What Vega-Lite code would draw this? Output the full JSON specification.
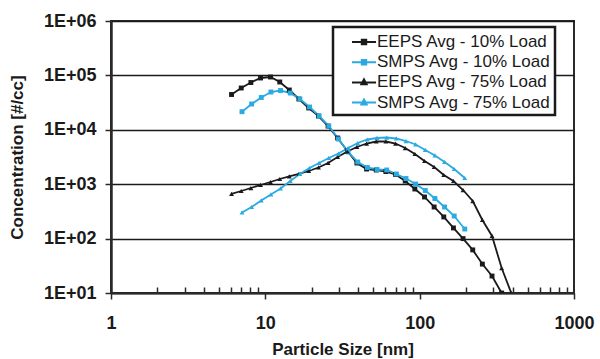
{
  "$schema": "https://vega.github.io/schema/vega-lite/v6.json",
  "width": 463,
  "height": 272,
  "autosize": "none",
  "padding": {"left": 111, "top": 21, "right": 26, "bottom": 66},
  "background": "white",
  "config": {
    "font": "Liberation Sans",
    "view": {"stroke": "#2a2a2a", "strokeWidth": 2}
  },
  "data": {
    "values": [
      {"series": "EEPS Avg - 10% Load", "size": 6.04, "conc": 44560},
      {"series": "EEPS Avg - 10% Load", "size": 6.98, "conc": 58650},
      {"series": "EEPS Avg - 10% Load", "size": 8.06, "conc": 74000},
      {"series": "EEPS Avg - 10% Load", "size": 9.31, "conc": 89600},
      {"series": "EEPS Avg - 10% Load", "size": 10.8, "conc": 93500},
      {"series": "EEPS Avg - 10% Load", "size": 12.4, "conc": 75700},
      {"series": "EEPS Avg - 10% Load", "size": 14.3, "conc": 53900},
      {"series": "EEPS Avg - 10% Load", "size": 16.5, "conc": 36800},
      {"series": "EEPS Avg - 10% Load", "size": 19.1, "conc": 25200},
      {"series": "EEPS Avg - 10% Load", "size": 22.1, "conc": 17900},
      {"series": "EEPS Avg - 10% Load", "size": 25.5, "conc": 11700},
      {"series": "EEPS Avg - 10% Load", "size": 29.4, "conc": 7070},
      {"series": "EEPS Avg - 10% Load", "size": 34.0, "conc": 4080},
      {"series": "EEPS Avg - 10% Load", "size": 39.2, "conc": 2450},
      {"series": "EEPS Avg - 10% Load", "size": 45.3, "conc": 1900},
      {"series": "EEPS Avg - 10% Load", "size": 52.3, "conc": 1820},
      {"series": "EEPS Avg - 10% Load", "size": 60.4, "conc": 1710},
      {"series": "EEPS Avg - 10% Load", "size": 69.8, "conc": 1510},
      {"series": "EEPS Avg - 10% Load", "size": 80.6, "conc": 1145},
      {"series": "EEPS Avg - 10% Load", "size": 93.1, "conc": 816},
      {"series": "EEPS Avg - 10% Load", "size": 107.5, "conc": 582},
      {"series": "EEPS Avg - 10% Load", "size": 124.1, "conc": 381},
      {"series": "EEPS Avg - 10% Load", "size": 143.3, "conc": 250},
      {"series": "EEPS Avg - 10% Load", "size": 165.5, "conc": 157},
      {"series": "EEPS Avg - 10% Load", "size": 191.1, "conc": 100},
      {"series": "EEPS Avg - 10% Load", "size": 220.7, "conc": 62},
      {"series": "EEPS Avg - 10% Load", "size": 254.8, "conc": 34},
      {"series": "EEPS Avg - 10% Load", "size": 294.3, "conc": 20.5},
      {"series": "EEPS Avg - 10% Load", "size": 339.8, "conc": 10},

      {"series": "SMPS Avg - 10% Load", "size": 7.06, "conc": 21520},
      {"series": "SMPS Avg - 10% Load", "size": 8.15, "conc": 29800},
      {"series": "SMPS Avg - 10% Load", "size": 9.41, "conc": 39250},
      {"series": "SMPS Avg - 10% Load", "size": 10.87, "conc": 49530},
      {"series": "SMPS Avg - 10% Load", "size": 12.55, "conc": 52760},
      {"series": "SMPS Avg - 10% Load", "size": 14.5, "conc": 47460},
      {"series": "SMPS Avg - 10% Load", "size": 16.74, "conc": 36830},
      {"series": "SMPS Avg - 10% Load", "size": 19.33, "conc": 26250},
      {"series": "SMPS Avg - 10% Load", "size": 22.32, "conc": 17940},
      {"series": "SMPS Avg - 10% Load", "size": 25.78, "conc": 11740},
      {"series": "SMPS Avg - 10% Load", "size": 29.77, "conc": 6775},
      {"series": "SMPS Avg - 10% Load", "size": 34.38, "conc": 3908},
      {"series": "SMPS Avg - 10% Load", "size": 39.7, "conc": 2559},
      {"series": "SMPS Avg - 10% Load", "size": 45.84, "conc": 2028},
      {"series": "SMPS Avg - 10% Load", "size": 52.94, "conc": 1863},
      {"series": "SMPS Avg - 10% Load", "size": 61.13, "conc": 1824},
      {"series": "SMPS Avg - 10% Load", "size": 70.6, "conc": 1541},
      {"series": "SMPS Avg - 10% Load", "size": 81.52, "conc": 1273},
      {"series": "SMPS Avg - 10% Load", "size": 94.14, "conc": 1008},
      {"series": "SMPS Avg - 10% Load", "size": 108.7, "conc": 766},
      {"series": "SMPS Avg - 10% Load", "size": 125.5, "conc": 546},
      {"series": "SMPS Avg - 10% Load", "size": 145.0, "conc": 381},
      {"series": "SMPS Avg - 10% Load", "size": 167.4, "conc": 260},
      {"series": "SMPS Avg - 10% Load", "size": 196.0, "conc": 150},

      {"series": "EEPS Avg - 75% Load", "size": 6.04, "conc": 661},
      {"series": "EEPS Avg - 75% Load", "size": 6.98, "conc": 750},
      {"series": "EEPS Avg - 75% Load", "size": 8.06, "conc": 851},
      {"series": "EEPS Avg - 75% Load", "size": 9.31, "conc": 967},
      {"series": "EEPS Avg - 75% Load", "size": 10.8, "conc": 1097},
      {"series": "EEPS Avg - 75% Load", "size": 12.4, "conc": 1246},
      {"series": "EEPS Avg - 75% Load", "size": 14.3, "conc": 1386},
      {"series": "EEPS Avg - 75% Load", "size": 16.5, "conc": 1541},
      {"series": "EEPS Avg - 75% Load", "size": 19.1, "conc": 1749},
      {"series": "EEPS Avg - 75% Load", "size": 22.1, "conc": 2028},
      {"series": "EEPS Avg - 75% Load", "size": 25.5, "conc": 2454},
      {"series": "EEPS Avg - 75% Load", "size": 29.4, "conc": 3162},
      {"series": "EEPS Avg - 75% Load", "size": 34.0, "conc": 3991},
      {"series": "EEPS Avg - 75% Load", "size": 39.2, "conc": 4830},
      {"series": "EEPS Avg - 75% Load", "size": 45.3, "conc": 5598},
      {"series": "EEPS Avg - 75% Load", "size": 52.3, "conc": 6095},
      {"series": "EEPS Avg - 75% Load", "size": 60.4, "conc": 6095},
      {"series": "EEPS Avg - 75% Load", "size": 69.8, "conc": 5598},
      {"series": "EEPS Avg - 75% Load", "size": 80.6, "conc": 4627},
      {"series": "EEPS Avg - 75% Load", "size": 93.1, "conc": 3590},
      {"series": "EEPS Avg - 75% Load", "size": 107.5, "conc": 2670},
      {"series": "EEPS Avg - 75% Load", "size": 124.1, "conc": 2071},
      {"series": "EEPS Avg - 75% Load", "size": 143.3, "conc": 1476},
      {"series": "EEPS Avg - 75% Load", "size": 165.5, "conc": 1145},
      {"series": "EEPS Avg - 75% Load", "size": 191.1, "conc": 782},
      {"series": "EEPS Avg - 75% Load", "size": 220.7, "conc": 491},
      {"series": "EEPS Avg - 75% Load", "size": 254.8, "conc": 220},
      {"series": "EEPS Avg - 75% Load", "size": 294.3, "conc": 112},
      {"series": "EEPS Avg - 75% Load", "size": 339.8, "conc": 28.8},
      {"series": "EEPS Avg - 75% Load", "size": 392.4, "conc": 10},

      {"series": "SMPS Avg - 75% Load", "size": 7.06, "conc": 302},
      {"series": "SMPS Avg - 75% Load", "size": 8.15, "conc": 381},
      {"series": "SMPS Avg - 75% Load", "size": 9.41, "conc": 502},
      {"series": "SMPS Avg - 75% Load", "size": 10.87, "conc": 647},
      {"series": "SMPS Avg - 75% Load", "size": 12.55, "conc": 834},
      {"series": "SMPS Avg - 75% Load", "size": 14.5, "conc": 1145},
      {"series": "SMPS Avg - 75% Load", "size": 16.74, "conc": 1541},
      {"series": "SMPS Avg - 75% Load", "size": 19.33, "conc": 1985},
      {"series": "SMPS Avg - 75% Load", "size": 22.32, "conc": 2454},
      {"series": "SMPS Avg - 75% Load", "size": 25.78, "conc": 3033},
      {"series": "SMPS Avg - 75% Load", "size": 29.77, "conc": 3666},
      {"series": "SMPS Avg - 75% Load", "size": 34.38, "conc": 4627},
      {"series": "SMPS Avg - 75% Load", "size": 39.7, "conc": 5718},
      {"series": "SMPS Avg - 75% Load", "size": 45.84, "conc": 6633},
      {"series": "SMPS Avg - 75% Load", "size": 52.94, "conc": 7070},
      {"series": "SMPS Avg - 75% Load", "size": 61.13, "conc": 7216},
      {"series": "SMPS Avg - 75% Load", "size": 70.6, "conc": 6922},
      {"series": "SMPS Avg - 75% Load", "size": 81.52, "conc": 6223},
      {"series": "SMPS Avg - 75% Load", "size": 94.14, "conc": 5370},
      {"series": "SMPS Avg - 75% Load", "size": 108.7, "conc": 4254},
      {"series": "SMPS Avg - 75% Load", "size": 125.5, "conc": 3371},
      {"series": "SMPS Avg - 75% Load", "size": 145.0, "conc": 2559},
      {"series": "SMPS Avg - 75% Load", "size": 167.4, "conc": 1903},
      {"series": "SMPS Avg - 75% Load", "size": 196.0, "conc": 1300}
    ]
  },
  "encoding": {
    "x": {
      "field": "size", "type": "quantitative",
      "scale": {"type": "log", "domain": [1, 1000], "nice": false},
      "axis": {
        "title": "Particle Size [nm]",
        "titleFontSize": 17, "titleFontWeight": "bold", "titleColor": "#1a1a1a", "titlePadding": 9,
        "values": [1, 2, 3, 4, 5, 6, 7, 8, 9, 10, 20, 30, 40, 50, 60, 70, 80, 90, 100, 200, 300, 400, 500, 600, 700, 800, 900, 1000],
        "labelExpr": "indexof([1,10,100,1000], datum.value) >= 0 ? '' + datum.value : ''",
        "labelFontSize": 18, "labelFontWeight": "bold", "labelColor": "#1a1a1a", "labelPadding": 15,
        "labelFlush": false, "labelOverlap": false,
        "tickColor": "#2a2a2a", "tickWidth": 1.5,
        "tickSize": {"condition": {"test": "indexof([1,10,100,1000], datum.value) >= 0", "value": 6}, "value": -6},
        "domainColor": "#2a2a2a", "domainWidth": 2,
        "grid": false
      }
    },
    "y": {
      "field": "conc", "type": "quantitative",
      "scale": {"type": "log", "domain": [10, 1000000], "nice": false},
      "axis": {
        "title": "Concentration [#/cc]",
        "titleFontSize": 17, "titleFontWeight": "bold", "titleColor": "#1a1a1a", "titlePadding": 17,
        "values": [10, 100, 1000, 10000, 100000, 1000000],
        "labelExpr": "'1E+0' + round(log(datum.value)/LN10)",
        "labelFontSize": 18, "labelFontWeight": "bold", "labelColor": "#1a1a1a", "labelPadding": 9,
        "tickColor": "#2a2a2a", "tickWidth": 1.5, "tickSize": 6,
        "domainColor": "#2a2a2a", "domainWidth": 2.5,
        "grid": true, "gridColor": "#1a1a1a", "gridWidth": 1.6
      }
    }
  },
  "layer": [
    {
      "mark": {"type": "line", "strokeWidth": 1.8, "clip": true},
      "encoding": {
        "color": {
          "field": "series", "type": "nominal",
          "scale": {
            "domain": ["EEPS Avg - 10% Load", "SMPS Avg - 10% Load", "EEPS Avg - 75% Load", "SMPS Avg - 75% Load"],
            "range": ["#1a1a1a", "#29aae2", "#1a1a1a", "#29aae2"]
          },
          "legend": {
            "title": null,
            "orient": "none", "legendX": 222, "legendY": 6,
            "labelFontSize": 17, "labelColor": "#1a1a1a", "labelFont": "Liberation Sans", "labelLimit": 400,
            "symbolType": "M-1.2,0H1.2M-0.22,-0.22H0.22V0.22H-0.22Z",
            "symbolSize": 400, "symbolStrokeWidth": 2,
            "strokeColor": "#1a1a1a", "fillColor": "white",
            "padding": 4, "rowPadding": 1.2, "labelOffset": 2, "symbolOffset": 16,
            "encode": {
              "legend": {"update": {"strokeWidth": {"value": 2.5}, "width": {"value": 228}}},
              "symbols": {"update": {
                "shape": {"signal": "indexof(datum.value, '10%') >= 0 ? 'M-1.2,0H1.2M-0.22,-0.22H0.22V0.22H-0.22Z' : 'M-1.2,0H1.2M0,-0.3L0.26,0.18H-0.26Z'"},
                "fill": {"scale": "color", "field": "value"},
                "fillOpacity": {"value": 1}
              }}
            }
          }
        },
        "detail": {"field": "series", "type": "nominal"}
      }
    },
    {
      "mark": {"type": "point", "filled": true, "size": 24, "opacity": 1, "clip": true},
      "encoding": {
        "color": {"field": "series", "type": "nominal", "legend": null},
        "shape": {
          "condition": {"test": "indexof(datum.series, '10%') >= 0", "value": "square"},
          "value": "triangle-up"
        }
      }
    }
  ]
}
